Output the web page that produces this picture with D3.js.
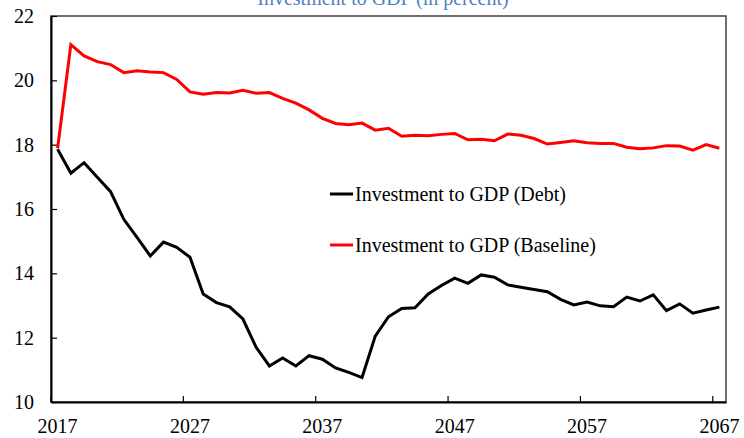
<!DOCTYPE html>
<html>
<head>
<meta charset="utf-8">
<script src="https://cdnjs.cloudflare.com/ajax/libs/d3/7.8.5/d3.min.js"></script>
<style>
  body { margin: 0; background: #fff; }
  svg text { font-family: "Liberation Serif", "Times New Roman", serif; }
</style>
</head>
<body>
<div class="container"></div>
<script>
const years = d3.range(2017, 2068);
const tickYears = [2017, 2027, 2037, 2047, 2057, 2067];
const yTicks = [10, 12, 14, 16, 18, 20, 22];

const debt = [17.86, 17.11, 17.44, 16.99, 16.54, 15.68, 15.12, 14.54, 14.97, 14.81,
              14.50, 13.36, 13.09, 12.96, 12.58, 11.70, 11.12, 11.37, 11.12, 11.44,
              11.33, 11.06, 10.92, 10.76, 12.05, 12.65, 12.91, 12.93, 13.36, 13.62,
              13.85, 13.69, 13.95, 13.88, 13.64, 13.57, 13.50, 13.43, 13.19, 13.02,
              13.11, 12.99, 12.96, 13.26, 13.14, 13.33, 12.84, 13.05, 12.76, 12.86,
              12.95];
const baseline = [17.89, 21.11, 20.76, 20.58, 20.49, 20.24, 20.30, 20.26, 20.24, 20.03,
                  19.64, 19.57, 19.62, 19.61, 19.69, 19.60, 19.62, 19.44, 19.29, 19.08,
                  18.82, 18.66, 18.62, 18.67, 18.45, 18.51, 18.26, 18.29, 18.28, 18.32,
                  18.35, 18.15, 18.17, 18.12, 18.33, 18.29, 18.19, 18.02, 18.07, 18.12,
                  18.06, 18.04, 18.04, 17.92, 17.87, 17.90, 17.97, 17.96, 17.83, 18.00,
                  17.89];

const seriesNames = ["Investment to GDP (Debt)", "Investment to GDP (Baseline)"];
const seriesColors = ["#000000", "#ff0000"];

const w = 744;
const h = 438;
const margin = {top: 16, right: 18, bottom: 36, left: 51};
const iw = w - margin.left - margin.right;
const ih = h - margin.top - margin.bottom;

/* category axis: points sit in the middle of each year band */
const xScale = d3.scaleBand()
                 .domain(years)
                 .range([0, iw])
                 .padding(0);
const xMid = (yr) => xScale(yr) + xScale.bandwidth() / 2;

const yScale = d3.scaleLinear()
                 .domain([10, 22])
                 .range([ih, 0]);

const svg = d3.select(".container")
              .append("svg")
              .attr("width", w)
              .attr("height", h);

/* title, cut off at the top like the original */
svg.append("text")
   .attr("x", 383)
   .attr("y", 5)
   .attr("text-anchor", "middle")
   .attr("fill", "#4f81bd")
   .style("font-size", "20px")
   .text("Investment to GDP (in percent)");

const g = svg.append("g")
             .attr("transform", "translate(" + margin.left + "," + margin.top + ")");

/* frame on top and right */
g.append("rect")
 .attr("width", iw)
 .attr("height", ih)
 .attr("fill", "none")
 .attr("stroke", "#404040")
 .attr("stroke-width", 1.5);

/* y axis */
const yAxis = d3.axisLeft(yScale)
                .tickValues(yTicks)
                .tickSizeInner(-6)
                .tickSizeOuter(0)
                .tickPadding(17);
g.append("g")
 .attr("id", "y-axis")
 .call(yAxis)
 .call((a) => a.select(".domain").attr("stroke", "#000").attr("stroke-width", 2))
 .call((a) => a.selectAll(".tick line").attr("stroke", "#000").attr("stroke-width", 1.2))
 .call((a) => a.selectAll(".tick text").style("font-size", "20px").attr("fill", "#000"));

/* x axis labels at band centres */
const xAxis = d3.axisBottom(xScale)
                .tickValues(tickYears)
                .tickSize(0)
                .tickPadding(17);
g.append("g")
 .attr("id", "x-axis")
 .attr("transform", "translate(0," + ih + ")")
 .call(xAxis)
 .call((a) => a.select(".domain").attr("stroke", "#000").attr("stroke-width", 2))
 .call((a) => a.selectAll(".tick text").style("font-size", "20px").attr("fill", "#000"));

/* x tick marks at band boundaries, pointing inward */
g.selectAll(".xtick")
 .data(tickYears)
 .enter()
 .append("line")
 .attr("class", "xtick")
 .attr("x1", (d) => xScale(d))
 .attr("x2", (d) => xScale(d))
 .attr("y1", ih)
 .attr("y2", ih - 6)
 .attr("stroke", "#000")
 .attr("stroke-width", 1.2);

/* lines */
const line = d3.line()
               .x((d, i) => xMid(years[i]))
               .y((d) => yScale(d));

[debt, baseline].forEach((s, k) => {
    g.append("path")
     .datum(s)
     .attr("d", line)
     .attr("fill", "none")
     .attr("stroke", seriesColors[k])
     .attr("stroke-width", 3)
     .attr("stroke-linejoin", "miter");
});

/* legend */
const legendY = [194, 245];
seriesNames.forEach((name, k) => {
    svg.append("line")
       .attr("x1", 330)
       .attr("x2", 353)
       .attr("y1", legendY[k])
       .attr("y2", legendY[k])
       .attr("stroke", seriesColors[k])
       .attr("stroke-width", 3);
    svg.append("text")
       .attr("x", 355)
       .attr("y", legendY[k] + 6.5)
       .style("font-size", "20px")
       .attr("fill", "#000")
       .text(name);
});
</script>
</body>
</html>
